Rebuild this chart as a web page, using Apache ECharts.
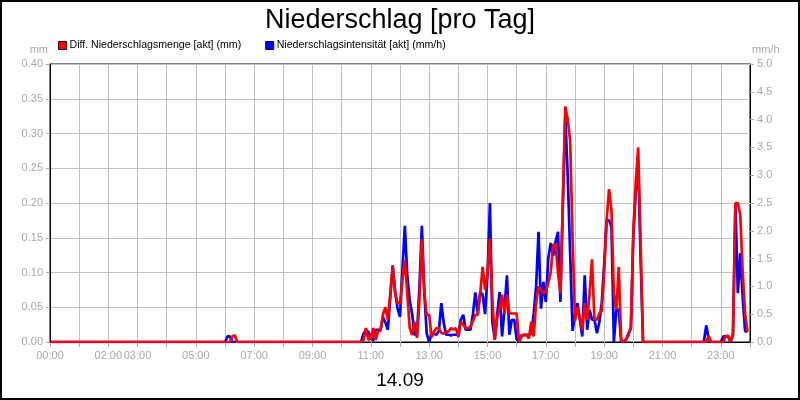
<!DOCTYPE html>
<html><head><meta charset="utf-8">
<script src="https://cdn.jsdelivr.net/npm/echarts@6/dist/echarts.min.js"></script>
<style>html,body{margin:0;padding:0;background:#fff}#c{width:800px;height:400px}</style>
</head><body><div id="c"></div>
<script>
const titleText = "Niederschlag [pro Tag]";
const dateText = "14.09";
const nameMenge = "Diff. Niederschlagsmenge [akt] (mm)";
const nameIntens = "Niederschlagsintensität [akt] (mm/h)";
const leftAxisName = "mm";
const rightAxisName = "mm/h";
const xLabelHours = [0, 2, 3, 5, 7, 9, 11, 13, 15, 17, 19, 21, 23];

const times = [
  "00:00","06:00","06:05","06:10","06:15","06:20","06:25",
  "10:35","10:40","10:45","10:50","10:55","11:00","11:05","11:10","11:15","11:20","11:25","11:30","11:35",
  "11:40","11:45","11:50","11:55","12:00","12:05","12:10","12:15","12:20","12:25","12:30","12:35",
  "12:40","12:45","12:50","12:55","13:00","13:05","13:10","13:15","13:20","13:25","13:30","13:35",
  "13:40","13:45","13:50","13:55","14:00","14:05","14:10","14:15","14:20","14:25","14:30","14:35",
  "14:40","14:45","14:50","14:55","15:00","15:05","15:10","15:15","15:20","15:25","15:30","15:35",
  "15:40","15:45","15:50","15:55","16:00","16:05","16:10","16:15","16:20","16:25","16:30","16:35",
  "16:40","16:45","16:50","16:55","17:00","17:05","17:10","17:15","17:20","17:25","17:30","17:35",
  "17:40","17:45","17:50","17:55","18:00","18:05","18:10","18:15","18:20","18:25","18:30","18:35",
  "18:40","18:45","18:50","18:55","19:00","19:05","19:10","19:15","19:20","19:25","19:30","19:35",
  "19:40","19:45","19:50","19:55","20:00","20:05","20:10","20:15","20:20",
  "22:25","22:30","22:35","22:40","23:00","23:05","23:10","23:15","23:20","23:25","23:30","23:35",
  "23:40","23:45","23:50","23:55"
];

// Diff. Niederschlagsmenge (mm), left axis
const mengeMm = [
  0,0,0,0,0.008,0.01,0,
  0,0,0.003,0.02,0.003,0.005,0.02,0.003,0.016,0.016,0.04,0.05,0.032,
  0.07,0.109,0.07,0.056,0.055,0.09,0.118,0.07,0.02,0.01,0.029,0.006,
  0.06,0.148,0.07,0.039,0.039,0.007,0.015,0.02,0.02,0.013,0.012,0.015,
  0.015,0.02,0.018,0.02,0.007,0.029,0.025,0.02,0.02,0.022,0.03,0.039,
  0.039,0.07,0.108,0.075,0.1,0.149,0.06,0.003,0.035,0.05,0.068,0.041,
  0.068,0.041,0.041,0.041,0.041,0,0.01,0.01,0.01,0.005,0.029,0.008,
  0.056,0.08,0.075,0.07,0.072,0.085,0.1,0.14,0.14,0.1,0.07,0.2,
  0.339,0.32,0.29,0.15,0.03,0.05,0.035,0.017,0.056,0.032,0.07,0.119,
  0.032,0.032,0.041,0.045,0.1,0.175,0.22,0.19,0.07,0.046,0.108,0.003,
  0,0.003,0.01,0.022,0.16,0.23,0.28,0.14,0,
  0,0,0.009,0,0,0,0.009,0.009,0,0.012,0.2,0.2,
  0.183,0.1,0.04,0.015
];

// Niederschlagsintensität (mm/h), right axis
const intensitaet = [
  0,0,0.1,0.1,0,0,0,
  0,0,0.15,0.22,0.18,0.08,0.02,0.22,0.22,0.22,0.45,0.35,0.22,
  0.8,1.38,0.9,0.6,0.45,1.3,2.09,1.2,0.75,0.5,0.13,0.13,
  1.0,2.09,0.9,0.15,0,0.16,0.15,0.13,0.2,0.7,0.34,0.13,
  0.13,0.12,0.13,0.13,0.13,0.4,0.49,0.22,0.22,0.22,0.5,0.89,
  0.52,0.9,0.85,0.5,1.2,2.5,0.35,0.05,0.5,0.9,0.1,0.6,
  1.2,0.13,0.4,0.4,0.05,0,0.1,0.13,0.13,0.13,0.15,0.5,
  1.0,1.98,0.6,1.08,0.72,1.5,1.78,1.55,1.8,1.98,0.72,2.5,
  4.05,3.0,1.6,0.2,0.5,0.7,0.4,0.1,1.2,0.22,0.58,0.4,
  0.4,0.16,0.35,0.7,1.4,2.19,2.19,2.07,0,0.58,0.58,0,
  0,0.05,0.15,0.25,1.9,2.7,3.2,1.5,0,
  0,0.3,0.05,0,0,0.1,0.1,0.1,0,0.12,2.5,0.88,
  1.6,0.8,0.19,0.19
];

function toMin(s) { const p = s.split(':').map(Number); return p[0] * 60 + p[1]; }
function pad(n) { return (n < 10 ? '0' : '') + n; }

const FONT = "'Liberation Sans', Arial, sans-serif";
const GRAY = '#a8a8a8';

const chart = echarts.init(document.getElementById('c'), null, { renderer: 'canvas' });
chart.setOption({
  animation: false,
  backgroundColor: '#fff',
  textStyle: { fontFamily: FONT },
  title: {
    text: titleText, left: 'center', top: 2,
    textStyle: { fontFamily: FONT, fontSize: 27, fontWeight: 'normal', color: '#000' }
  },
  legend: {
    left: 53, top: 35, itemWidth: 8, itemHeight: 8, itemGap: 24, icon: 'rect',
    textStyle: { fontFamily: FONT, fontSize: 10.6, color: '#000', padding: [0, 0, 0, -2] },
    data: [
      { name: nameMenge, itemStyle: { borderColor: '#400000', borderWidth: 1 } },
      { name: nameIntens, itemStyle: { borderColor: '#000040', borderWidth: 1 } }
    ]
  },
  grid: { left: 50, right: 50, top: 64, bottom: 58, show: true, borderColor: '#000', borderWidth: 1, containLabel: false },
  xAxis: {
    type: 'value', min: 0, max: 1440, interval: 60,
    axisLine: { show: true, lineStyle: { color: '#000' } },
    axisTick: { show: true, length: 5, lineStyle: { color: GRAY } },
    axisLabel: {
      color: GRAY, fontSize: 11, fontFamily: FONT, margin: 8, showMaxLabel: true,
      formatter: function (v) { const h = v / 60; return xLabelHours.indexOf(h) >= 0 ? pad(h) + ':00' : ''; }
    },
    splitLine: { show: true, lineStyle: { color: '#c0c0c0', width: 1 } }
  },
  yAxis: [
    {
      type: 'value', min: 0, max: 0.4, interval: 0.05, position: 'left',
      name: leftAxisName, nameLocation: 'end', nameGap: 9,
      nameTextStyle: { color: GRAY, fontSize: 11, fontFamily: FONT, align: 'right', verticalAlign: 'bottom', padding: [0, 2, 0, 0] },
      axisLine: { show: true, lineStyle: { color: '#000' } },
      axisTick: { show: true, length: 4, lineStyle: { color: GRAY } },
      axisLabel: { color: GRAY, fontSize: 11, fontFamily: FONT, margin: 7, formatter: v => v.toFixed(2) },
      splitLine: { show: true, lineStyle: { color: '#c0c0c0', width: 1 } }
    },
    {
      type: 'value', min: 0, max: 5, interval: 0.5, position: 'right',
      name: rightAxisName, nameLocation: 'end', nameGap: 9,
      nameTextStyle: { color: GRAY, fontSize: 11, fontFamily: FONT, align: 'left', verticalAlign: 'bottom', padding: [0, 0, 0, 2] },
      axisLine: { show: true, lineStyle: { color: '#000' } },
      axisTick: { show: true, length: 4, lineStyle: { color: GRAY } },
      axisLabel: { color: GRAY, fontSize: 11, fontFamily: FONT, margin: 7, formatter: v => v.toFixed(1) },
      splitLine: { show: false }
    }
  ],
  series: [
    {
      name: nameIntens, type: 'line', yAxisIndex: 1, showSymbol: false, symbol: 'none',
      color: '#0000ff', lineStyle: { color: '#0000ff', width: 2.7 },
      data: times.map((t, i) => [toMin(t), intensitaet[i]]), z: 2
    },
    {
      name: nameMenge, type: 'line', yAxisIndex: 0, showSymbol: false, symbol: 'none',
      color: '#ff0000', lineStyle: { color: '#ff0000', width: 2.7 },
      data: times.map((t, i) => [toMin(t), mengeMm[i]]), z: 3
    }
  ],
  graphic: [
    { type: 'rect', silent: true, shape: { x: 1, y: 1, width: 798, height: 398 }, style: { fill: 'none', stroke: '#000', lineWidth: 2 } },
    { type: 'text', silent: true, x: 400, y: 381, style: { text: dateText, fill: '#000', font: '19px ' + FONT, textAlign: 'center', textVerticalAlign: 'middle' } }
  ]
});
</script></body></html>
